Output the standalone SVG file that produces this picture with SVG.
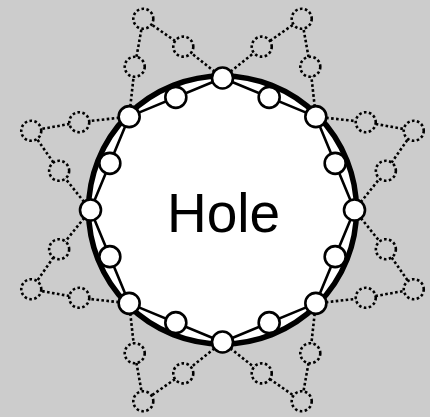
<svg xmlns="http://www.w3.org/2000/svg" width="430" height="417" viewBox="0 0 430 417">
<style>
.dl{fill:none;stroke:#000;stroke-width:2.6;stroke-dasharray:2.6 2.4}
.dn{fill:#cccccc;stroke:#000;stroke-width:2.6;stroke-dasharray:2.6 2.4}
.sl{fill:none;stroke:#000;stroke-width:2.6}
.n{fill:#fff;stroke:#000;stroke-width:2.6}
.t{font-family:"Liberation Sans",Arial,sans-serif;font-size:55px;fill:#000;text-anchor:middle}
</style>
<rect x="0" y="0" width="430" height="417" fill="#cccccc"/>
<g transform="translate(222.5,210)">
<g id="connectors">
<g id="ear-connectors">
<polyline class="dl" points="132,0 163.36,-39.22 191.24,-79.21 143.24,-87.78 93.34,-93.34"/>
<polyline class="dl" points="93.34,-93.34 87.78,-143.24 79.21,-191.24 39.22,-163.36 0,-132"/>
<polyline class="dl" points="0,-132 -39.22,-163.36 -79.21,-191.24 -87.78,-143.24 -93.34,-93.34"/>
<polyline class="dl" points="-93.34,-93.34 -143.24,-87.78 -191.24,-79.21 -163.36,-39.22 -132,0"/>
<polyline class="dl" points="-132,0 -163.36,39.22 -191.24,79.21 -143.24,87.78 -93.34,93.34"/>
<polyline class="dl" points="-93.34,93.34 -87.78,143.24 -79.21,191.24 -39.22,163.36 0,132"/>
<polyline class="dl" points="0,132 39.22,163.36 79.21,191.24 87.78,143.24 93.34,93.34"/>
<polyline class="dl" points="93.34,93.34 143.24,87.78 191.24,79.21 163.36,39.22 132,0"/>
</g>
</g>
<g id="ear-nodes">
<circle id="e1a" class="dn" cx="163.36" cy="-39.22" r="10"/>
<circle id="e1b" class="dn" cx="191.24" cy="-79.21" r="10"/>
<circle id="e1c" class="dn" cx="143.24" cy="-87.78" r="10"/>
<circle id="e2a" class="dn" cx="87.78" cy="-143.24" r="10"/>
<circle id="e2b" class="dn" cx="79.21" cy="-191.24" r="10"/>
<circle id="e2c" class="dn" cx="39.22" cy="-163.36" r="10"/>
<circle id="e3a" class="dn" cx="-39.22" cy="-163.36" r="10"/>
<circle id="e3b" class="dn" cx="-79.21" cy="-191.24" r="10"/>
<circle id="e3c" class="dn" cx="-87.78" cy="-143.24" r="10"/>
<circle id="e4a" class="dn" cx="-143.24" cy="-87.78" r="10"/>
<circle id="e4b" class="dn" cx="-191.24" cy="-79.21" r="10"/>
<circle id="e4c" class="dn" cx="-163.36" cy="-39.22" r="10"/>
<circle id="e5a" class="dn" cx="-163.36" cy="39.22" r="10"/>
<circle id="e5b" class="dn" cx="-191.24" cy="79.21" r="10"/>
<circle id="e5c" class="dn" cx="-143.24" cy="87.78" r="10"/>
<circle id="e6a" class="dn" cx="-87.78" cy="143.24" r="10"/>
<circle id="e6b" class="dn" cx="-79.21" cy="191.24" r="10"/>
<circle id="e6c" class="dn" cx="-39.22" cy="163.36" r="10"/>
<circle id="e7a" class="dn" cx="39.22" cy="163.36" r="10"/>
<circle id="e7b" class="dn" cx="79.21" cy="191.24" r="10"/>
<circle id="e7c" class="dn" cx="87.78" cy="143.24" r="10"/>
<circle id="e8a" class="dn" cx="143.24" cy="87.78" r="10"/>
<circle id="e8b" class="dn" cx="191.24" cy="79.21" r="10"/>
<circle id="e8c" class="dn" cx="163.36" cy="39.22" r="10"/>
</g>
<g id="hole">
<circle cx="0" cy="0" r="134" fill="#fff" stroke="#000" stroke-width="5.5"/>
<text class="t" x="1" y="22">Hole</text>
</g>
<g id="ring-connectors">
<polygon class="sl" points="132,0 93.34,-93.34 0,-132 -93.34,-93.34 -132,0 -93.34,93.34 0,132 93.34,93.34"/>
</g>
<g id="ring-nodes">
<circle id="m0" class="n" cx="132" cy="0" r="10.5"/>
<circle id="m1" class="n" cx="93.34" cy="-93.34" r="10.5"/>
<circle id="m2" class="n" cx="0" cy="-132" r="10.5"/>
<circle id="m3" class="n" cx="-93.34" cy="-93.34" r="10.5"/>
<circle id="m4" class="n" cx="-132" cy="0" r="10.5"/>
<circle id="m5" class="n" cx="-93.34" cy="93.34" r="10.5"/>
<circle id="m6" class="n" cx="0" cy="132" r="10.5"/>
<circle id="m7" class="n" cx="93.34" cy="93.34" r="10.5"/>
<circle id="i0" class="n" cx="112.67" cy="-46.67" r="10.5"/>
<circle id="i1" class="n" cx="46.67" cy="-112.67" r="10.5"/>
<circle id="i2" class="n" cx="-46.67" cy="-112.67" r="10.5"/>
<circle id="i3" class="n" cx="-112.67" cy="-46.67" r="10.5"/>
<circle id="i4" class="n" cx="-112.67" cy="46.67" r="10.5"/>
<circle id="i5" class="n" cx="-46.67" cy="112.67" r="10.5"/>
<circle id="i6" class="n" cx="46.67" cy="112.67" r="10.5"/>
<circle id="i7" class="n" cx="112.67" cy="46.67" r="10.5"/>
</g>
</g>
</svg>
